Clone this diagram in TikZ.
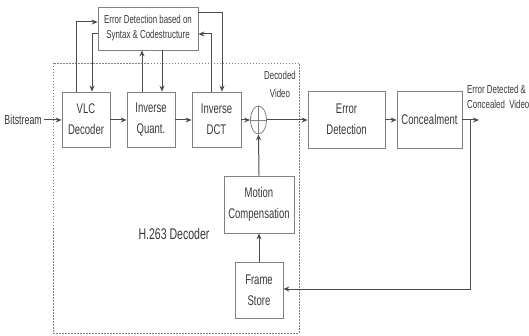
\documentclass[tikz,border=0pt]{standalone}
\usepackage{fontspec}
\setmainfont{Liberation Sans}[FakeStretch=0.68]
\usetikzlibrary{arrows.meta,shapes.geometric}
\definecolor{txt}{gray}{0.22}
\definecolor{boxc}{gray}{0.5}
\definecolor{linec}{gray}{0.3}
\tikzset{
  blk/.style={draw=boxc,line width=0.8pt,rectangle,inner sep=0pt,align=center,text=txt,
    font=\fontsize{14}{21}\selectfont},
  conn/.style={draw=linec,line width=1pt,-{Stealth[length=6pt,width=5pt]}},
  plain/.style={draw=linec,line width=1pt},
  lbl/.style={text=txt,inner sep=0pt,align=center},
}
\begin{document}
\begin{tikzpicture}[x=1pt,y=-1pt]
\useasboundingbox (0,0) rectangle (529,336);
% dashed decoder frame
\draw[boxc,line width=0.8pt,dash pattern=on 1.5pt off 1.5pt] (53,63) rectangle (299,333);
% blocks
\node[blk,minimum width=100pt,minimum height=43pt,font=\fontsize{11.6}{15}\selectfont] (ed) at (148,28.5)
  {Error Detection based on\\Syntax \& Codestructure};
\node[blk,minimum width=48pt,minimum height=55pt] (vlc) at (86,119.5) {VLC\\Decoder};
\node[blk,minimum width=48pt,minimum height=55pt] (iq) at (151,119.5) {Inverse\\Quant.};
\node[blk,minimum width=49pt,minimum height=55pt] (idct) at (216.5,119.5) {Inverse\\DCT};
\node[draw=boxc,line width=0.8pt,ellipse,minimum width=16pt,minimum height=28pt,inner sep=0pt] (sum) at (258.5,120) {};
\node[blk,minimum width=77pt,minimum height=57pt] (edet) at (346.5,119.5) {Error\\Detection};
\node[blk,minimum width=65pt,minimum height=57pt] (conc) at (429.5,119.5) {Concealment};
\node[blk,minimum width=70pt,minimum height=57pt] (mc) at (259,204.5) {Motion\\Compensation};
\node[blk,minimum width=48pt,minimum height=56pt] (fs) at (259,290) {Frame\\Store};
% labels
\node[lbl,font=\fontsize{13}{20}\selectfont,anchor=east] (bits) at (42,120) {Bitstream};
\node[lbl,font=\fontsize{11.6}{18}\selectfont] (dv) at (280,84) {Decoded\\Video};
\node[lbl,font=\fontsize{11.6}{15}\selectfont,anchor=west,align=left] (outl) at (467,97) {Error Detected \&\\Concealed\ \ Video};
\node[lbl,font=\fontsize{15.5}{20}\selectfont] (h263) at (174,234) {H.263 Decoder};
% adder cross
\draw[boxc,line width=0.6pt] (sum.north) -- (sum.south) (sum.west) -- (sum.east);
% main chain
\coordinate (bitsend) at (44,120);
\draw[conn] (bitsend) -- (vlc.west |- bitsend);
\draw[conn] (vlc.east |- 0,120) -- (iq.west |- 0,120);
\draw[conn] (iq.east |- 0,120) -- (idct.west |- 0,120);
\draw[conn] (idct.east |- 0,120) -- (sum.west);
\draw[conn] (sum.east) -- (edet.west |- 0,120);
\draw[conn] (edet.east |- 0,120) -- (conc.west |- 0,120);
\coordinate (outend) at (479,120);
\draw[conn] (conc.east |- 0,120) -- (outend);
% feedback from output to frame store
\coordinate (tap) at (470,120);
\draw[conn] (tap) |- (fs.east |- 0,289);
% motion compensation path
\draw[conn] (fs.north) -- (mc.south);
\draw[conn] (mc.north) -- (sum.south);
% syntax error detection loops
\draw[conn] (vlc.north -| 76,0) |- (ed.west |- 0,22);
\draw[conn] (ed.west |- 0,34) -| (vlc.north -| 92,0);
\draw[conn] (iq.north -| 142,0) -- (ed.south -| 142,0);
\draw[conn] (ed.south -| 162,0) -- (iq.north -| 162,0);
\draw[conn] (idct.north -| 211,0) |- (ed.east |- 0,34);
\draw[conn] (ed.east |- 0,13) -| (idct.north -| 222,0);
\end{tikzpicture}
\end{document}
